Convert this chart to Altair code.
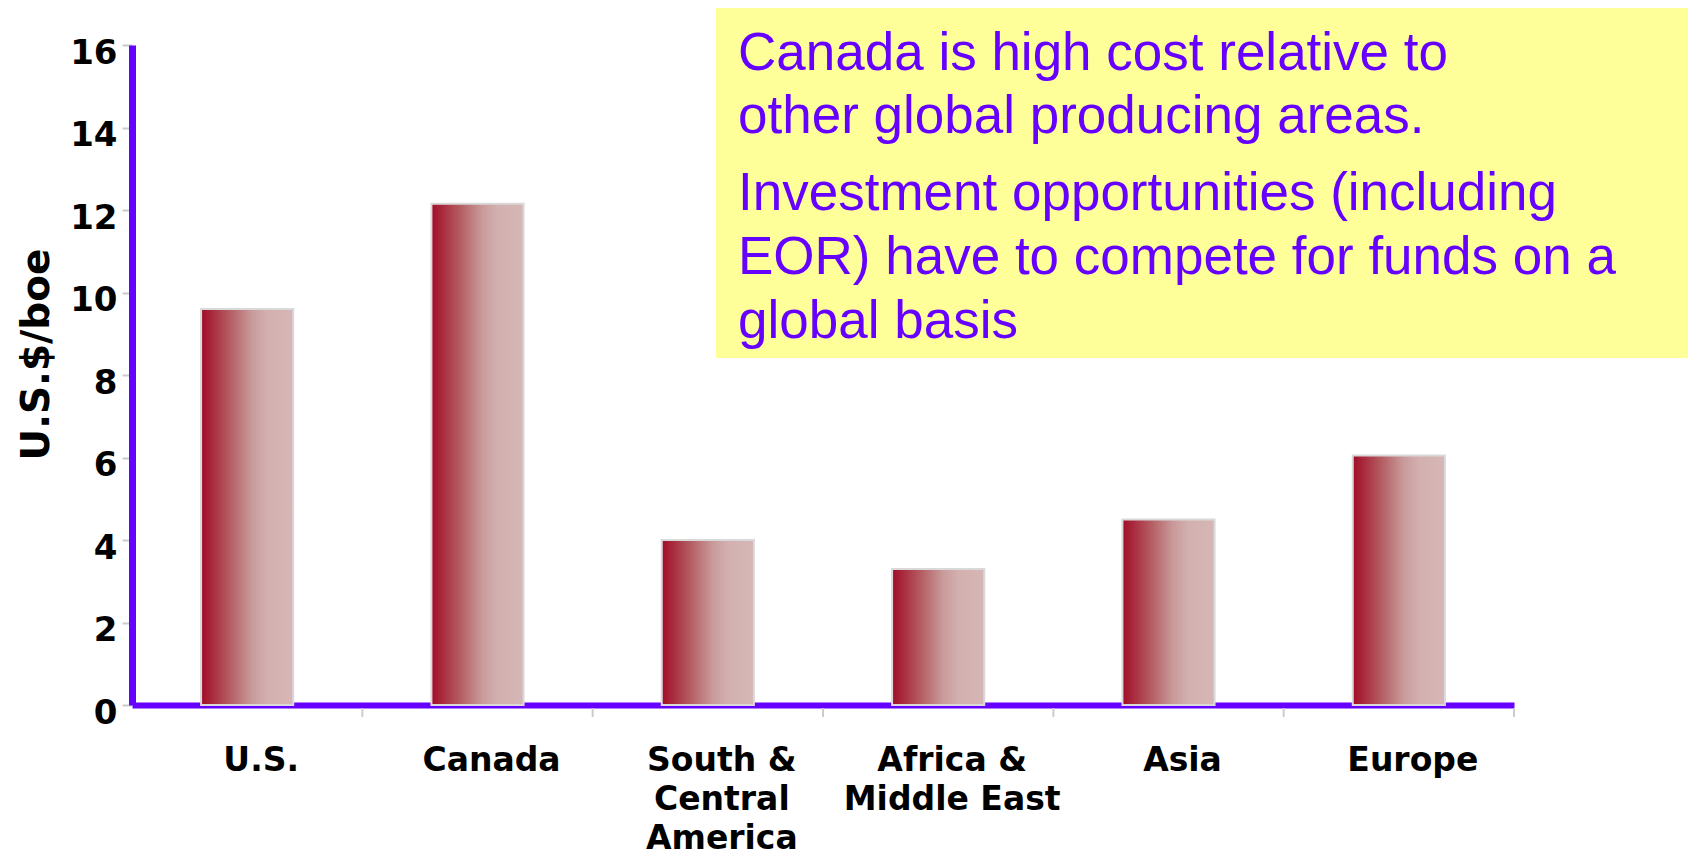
import altair as alt
import pandas as pd

# ---- data ----
regions = ["U.S.", "Canada", "South &\nCentral\nAmerica", "Africa &\nMiddle East", "Asia", "Europe"]
costs = [9.6, 12.15, 4.0, 3.3, 4.5, 6.05]
y_ticks = [0, 2, 4, 6, 8, 10, 12, 14, 16]
y_title = "U.S.$/boe"
note_lines = [
    "Canada is high cost relative to",
    "other global producing areas.",
    "Investment opportunities (including",
    "EOR) have to compete for funds on a",
    "global basis",
]

PURPLE = "#6600ff"
W, H = 1382, 660
PAD = {"left": 124, "top": 37, "right": 174, "bottom": 153}

df = pd.DataFrame({"region": regions, "cost": costs})
# category boundaries (between neighbouring regions and at the right end)
bounds = pd.DataFrame({"b": list(range(1, len(regions) + 1))})

grad = alt.LinearGradient(
    gradient="linear",
    stops=[
        alt.GradientStop(color="#a20c26", offset=0),
        alt.GradientStop(color="#b35a60", offset=0.3),
        alt.GradientStop(color="#c99a9a", offset=0.55),
        alt.GradientStop(color="#d3b0b0", offset=0.72),
        alt.GradientStop(color="#d6b6b6", offset=1),
    ],
    x1=0, x2=1, y1=0, y2=0,
)

bars = alt.Chart(df).mark_bar(fill=grad, stroke="#d9d9d9", strokeWidth=2).encode(
    x=alt.X(
        "region:N",
        sort=regions,
        scale=alt.Scale(paddingInner=0.6, paddingOuter=0.3),
        axis=alt.Axis(
            title=None,
            labelAngle=0,
            labelExpr="split(datum.label, '\\n')",
            labelFont="DejaVu Sans",
            labelFontWeight="bold",
            labelFontSize=33,
            labelColor="#000000",
            labelLineHeight=39,
            labelBaseline="top",
            labelPadding=29,
            labelOffset=14,
            labelLimit=600,
            tickOpacity=0,
            tickSize=10,
            domainColor=PURPLE,
            domainWidth=6,
        ),
    ),
    y=alt.Y(
        "cost:Q",
        scale=alt.Scale(domain=[0, 16], nice=False),
        axis=alt.Axis(
            values=y_ticks,
            title=y_title,
            titleFont="DejaVu Sans",
            titleFontWeight="bold",
            titleFontSize=39,
            titleColor="#000000",
            titleAngle=270,
            titleAlign="center",
            titleBaseline="alphabetic",
            titleX=-84,
            titleY=309,
            labelFont="DejaVu Sans",
            labelFontWeight="bold",
            labelFontSize=34,
            labelColor="#000000",
            labelPadding=5,
            labelOffset=8,
            tickColor="#cccccc",
            tickSize=10,
            tickWidth=2,
            domainColor=PURPLE,
            domainWidth=7,
            grid=False,
        ),
    ),
)

xticks = alt.Chart(bounds).mark_rule(color="#cccccc", strokeWidth=2).encode(
    x=alt.X("b:Q", scale=alt.Scale(domain=[0, len(regions)], nice=False), axis=None),
    y=alt.value(H + 3),
    y2=alt.value(H + 12),
)

box = alt.Chart(pd.DataFrame({"k": [0]})).mark_rect(color="#ffff99").encode(
    x=alt.value(584), x2=alt.value(1556), y=alt.value(-40), y2=alt.value(313)
)

baselines = [25, 88, 165, 229, 293]
texts = []
for line, yb in zip(note_lines, baselines):
    texts.append(
        alt.Chart(pd.DataFrame({"t": [line]})).mark_text(
            align="left", baseline="alphabetic", font="Liberation Sans",
            fontSize=53, color=PURPLE,
        ).encode(text="t:N", x=alt.value(606), y=alt.value(yb))
    )

chart = alt.layer(box, *texts, xticks, bars).resolve_scale(x="independent").properties(
    width=W, height=H, padding=PAD, autosize=alt.AutoSizeParams(type="none")
).configure_view(stroke=None)

chart.save("out.html", embed_options={"renderer": "svg", "actions": False})
